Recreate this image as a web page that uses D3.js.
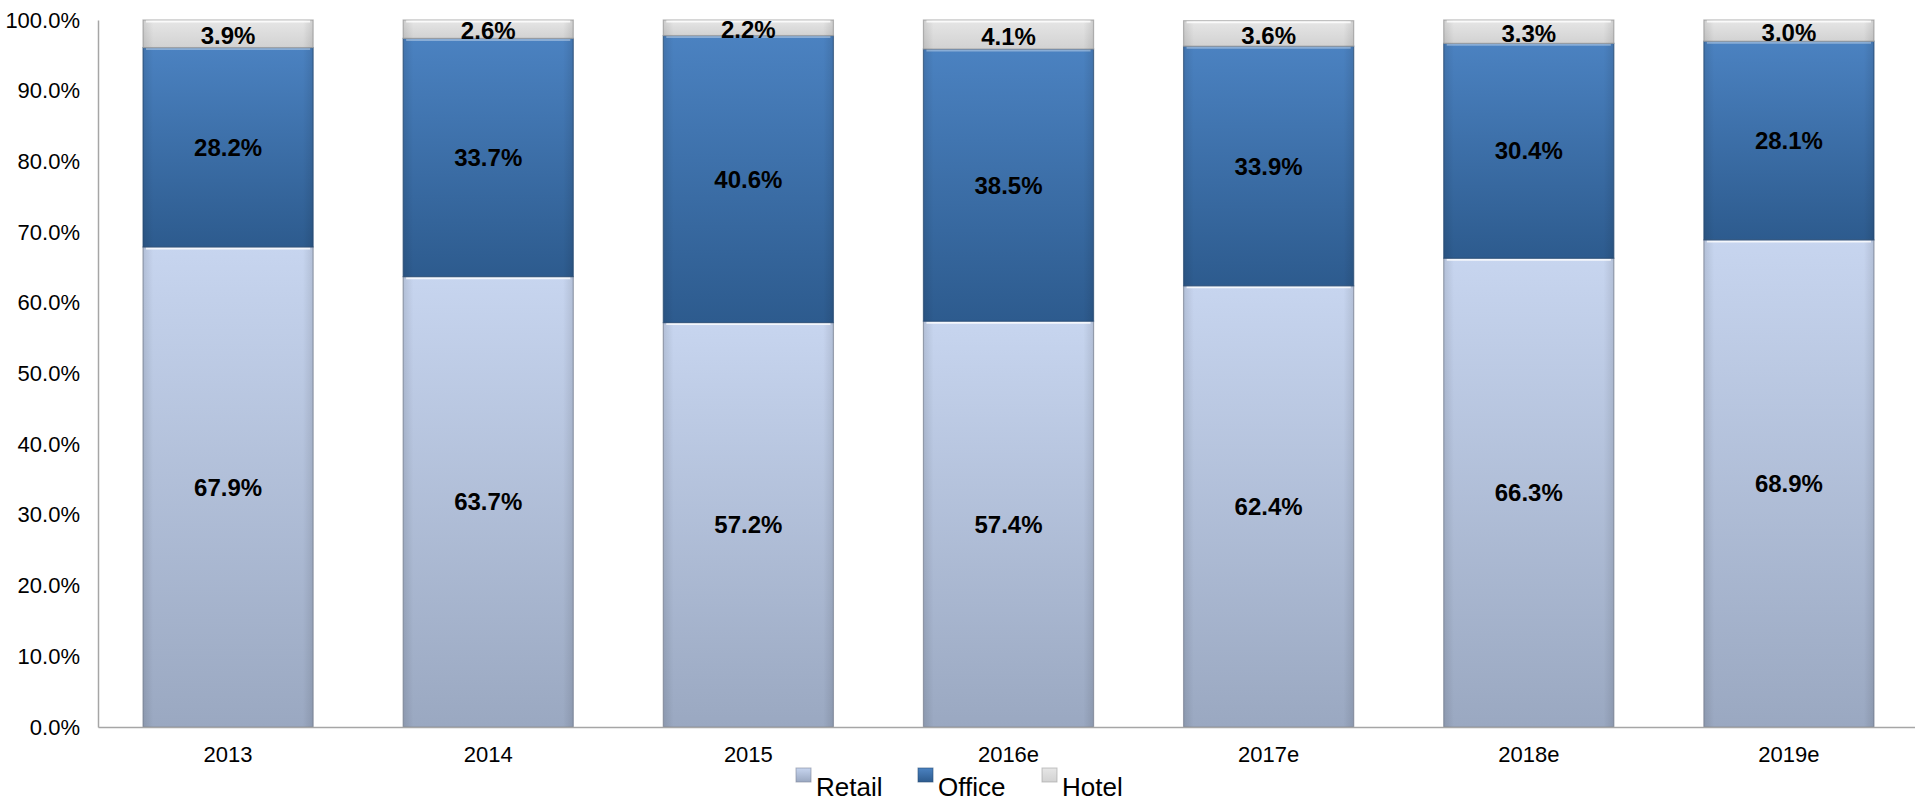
<!DOCTYPE html>
<html>
<head>
<meta charset="utf-8">
<script src="https://cdn.jsdelivr.net/npm/d3@7"></script>
<style>
  html, body { margin: 0; padding: 0; background: #fff; }
  svg { display: block; font-family: "Liberation Sans", Arial, Helvetica, sans-serif; }
</style>
</head>
<body>
<svg id="chart" width="1915" height="803"></svg>
<script>
// Share of each property type per year (percent)
const years  = ["2013", "2014", "2015", "2016e", "2017e", "2018e", "2019e"];
const retail = [67.9, 63.7, 57.2, 57.4, 62.4, 66.3, 68.9];
const office = [28.2, 33.7, 40.6, 38.5, 33.9, 30.4, 28.1];
const hotel  = [3.9, 2.6, 2.2, 4.1, 3.6, 3.3, 3.0];
const seriesNames = ["Retail", "Office", "Hotel"];
const yTicks = [0, 10, 20, 30, 40, 50, 60, 70, 80, 90, 100];

const W = 1915, H = 803;
const margin = { left: 98, right: -4, top: 20, bottom: 76 };

const svg = d3.select("#chart");

// Vertical gradients giving each segment its shaded, glossy look
const palette = {
  Retail: { top: "#c7d5ef", bottom: "#9aa8c1", edge: "#7f8799" },
  Office: { top: "#4b82c1", bottom: "#2d5b8e", edge: "#2a4d75" },
  Hotel:  { top: "#e6e6e6", bottom: "#d2d2d2", edge: "#a0a0a0" }
};
const defs = svg.append("defs");
seriesNames.forEach(name => {
  const g = defs.append("linearGradient")
    .attr("id", "grad-" + name)
    .attr("x1", 0).attr("y1", 0).attr("x2", 0).attr("y2", 1);
  g.append("stop").attr("offset", "0%").attr("stop-color", palette[name].top);
  g.append("stop").attr("offset", "100%").attr("stop-color", palette[name].bottom);
  // side shading
  const h = defs.append("linearGradient")
    .attr("id", "side-" + name)
    .attr("x1", 0).attr("y1", 0).attr("x2", 1).attr("y2", 0);
  h.append("stop").attr("offset", "0%").attr("stop-color", "#000").attr("stop-opacity", 0.10);
  h.append("stop").attr("offset", "6%").attr("stop-color", "#000").attr("stop-opacity", 0);
  h.append("stop").attr("offset", "94%").attr("stop-color", "#000").attr("stop-opacity", 0);
  h.append("stop").attr("offset", "100%").attr("stop-color", "#000").attr("stop-opacity", 0.10);
});

const x = d3.scaleBand()
  .domain(years)
  .range([margin.left, W - margin.right])
  .paddingInner(0.346)
  .paddingOuter(0.173);

const y = d3.scaleLinear()
  .domain([0, 100])
  .range([H - margin.bottom, margin.top]);

// Stack the three series
const rows = years.map((yr, i) => ({ year: yr, Retail: retail[i], Office: office[i], Hotel: hotel[i] }));
const stacked = d3.stack().keys(seriesNames)(rows);

const layers = svg.append("g").selectAll("g")
  .data(stacked)
  .join("g");

layers.each(function(layer) {
  const name = layer.key;
  const g = d3.select(this);
  const seg = g.selectAll("g.seg")
    .data(layer)
    .join("g")
    .attr("class", "seg");

  seg.append("rect")
    .attr("x", d => x(d.data.year))
    .attr("y", d => y(d[1]))
    .attr("width", x.bandwidth())
    .attr("height", d => y(d[0]) - y(d[1]))
    .attr("fill", "url(#grad-" + name + ")")
    .attr("stroke", palette[name].edge)
    .attr("stroke-width", 1.2)
    .attr("stroke-opacity", 0.7);

  seg.append("rect")
    .attr("x", d => x(d.data.year))
    .attr("y", d => y(d[1]))
    .attr("width", x.bandwidth())
    .attr("height", d => y(d[0]) - y(d[1]))
    .attr("fill", "url(#side-" + name + ")");

  // top highlight line of each segment
  seg.append("line")
    .attr("x1", d => x(d.data.year) + 3)
    .attr("x2", d => x(d.data.year) + x.bandwidth() - 3)
    .attr("y1", d => y(d[1]) + 1.5)
    .attr("y2", d => y(d[1]) + 1.5)
    .attr("stroke", "#ffffff")
    .attr("stroke-opacity", name === "Office" ? 0.35 : 0.8)
    .attr("stroke-width", 2);
});

// Value labels centred in every segment
layers.each(function(layer) {
  d3.select(this).selectAll("text.val")
    .data(layer)
    .join("text")
    .attr("class", "val")
    .attr("x", d => x(d.data.year) + x.bandwidth() / 2)
    .attr("y", d => (y(d[0]) + y(d[1])) / 2 + (layer.key === "Hotel" ? 1.5 : 0))
    .attr("dy", "0.36em")
    .attr("text-anchor", "middle")
    .attr("font-size", 24)
    .attr("font-weight", "bold")
    .attr("fill", "#000")
    .text(d => d3.format(".1f")(d.data[layer.key]) + "%");
});

// Axes
const yAxis = svg.append("g")
  .attr("transform", `translate(${margin.left},0)`)
  .call(d3.axisLeft(y).tickValues(yTicks).tickSize(0).tickPadding(18)
    .tickFormat(v => d3.format(".1f")(v) + "%"));
yAxis.select(".domain").attr("stroke", "#a6a6a6").attr("stroke-width", 1.5);
yAxis.selectAll("text").attr("font-size", 22).attr("fill", "#000")
  .attr("font-family", "'Liberation Sans', Arial, sans-serif");

const xAxis = svg.append("g")
  .attr("transform", `translate(0,${H - margin.bottom})`)
  .call(d3.axisBottom(x).tickSize(0).tickPadding(19));
xAxis.select(".domain").attr("stroke", "#a6a6a6").attr("stroke-width", 1.5);
xAxis.selectAll("text").attr("font-size", 22).attr("fill", "#000")
  .attr("font-family", "'Liberation Sans', Arial, sans-serif");

// Legend
const legendItems = [
  { name: "Retail", x: 796 },
  { name: "Office", x: 918 },
  { name: "Hotel",  x: 1042 }
];
const legend = svg.append("g");
const li = legend.selectAll("g").data(legendItems).join("g")
  .attr("transform", d => `translate(${d.x},768)`);
li.append("rect")
  .attr("width", 15).attr("height", 14)
  .attr("fill", d => "url(#grad-" + d.name + ")")
  .attr("stroke", d => palette[d.name].edge)
  .attr("stroke-opacity", 0.6);
li.append("text")
  .attr("x", 20).attr("y", 28)
  .attr("font-size", 26)
  .attr("fill", "#000")
  .text(d => d.name);
</script>
</body>
</html>
